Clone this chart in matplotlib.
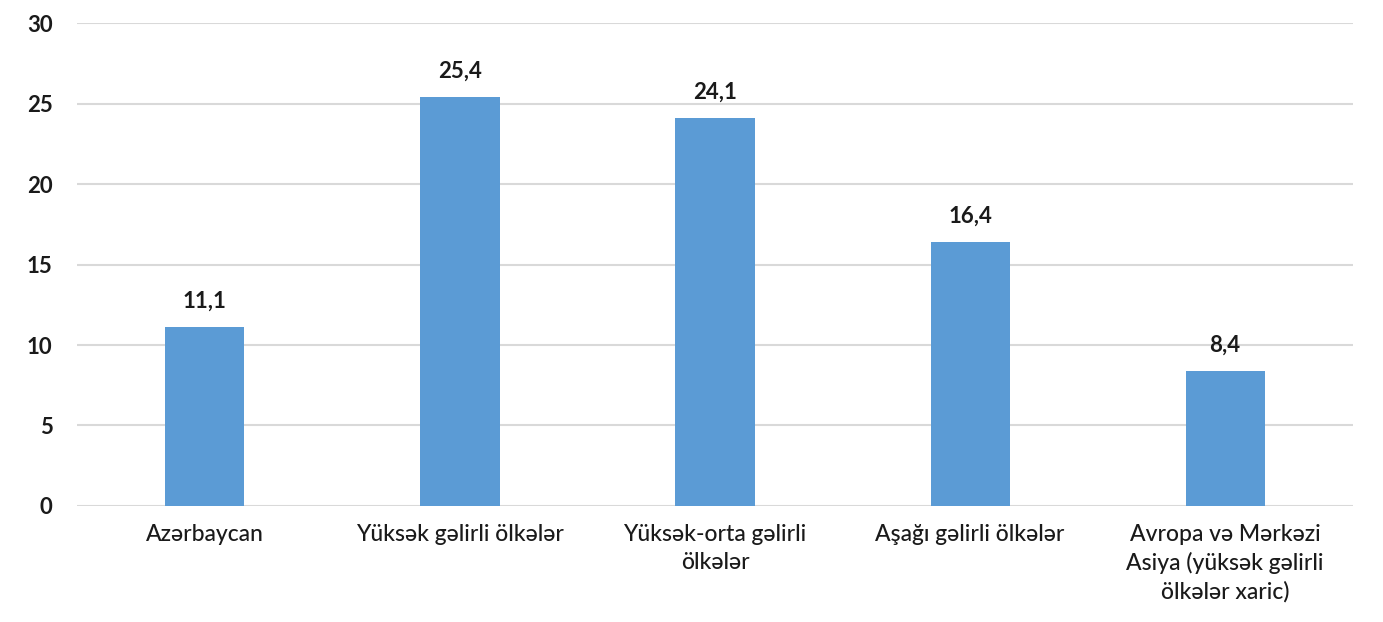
import matplotlib.pyplot as plt

# Data
categories = [
    "Azərbaycan",
    "Yüksək gəlirli ölkələr",
    "Yüksək-orta gəlirli\nölkələr",
    "Aşağı gəlirli ölkələr",
    "Avropa və Mərkəzi\nAsiya (yüksək gəlirli\nölkələr xaric)",
]
values = [11.1, 25.4, 24.1, 16.4, 8.4]
y_ticks = [0, 5, 10, 15, 20, 25, 30]

plt.rcParams['font.family'] = ['Lato', 'DejaVu Sans']

fig = plt.figure(figsize=(13.83, 6.22), dpi=100)
ax = fig.add_axes([0.056, 0.1865, 0.922, 0.7765])

x = range(len(categories))
bars = ax.bar(x, values, width=0.31, color='#5b9bd5', zorder=3)

for xi, v in zip(x, values):
    ax.annotate(f"{v:.1f}".replace('.', ','), (xi, v), xytext=(0, 11),
                textcoords='offset points', ha='center', va='bottom',
                fontsize=16, fontweight='bold', color='#1a1a1a')

ax.set_xlim(-0.5, len(categories) - 0.5)
ax.set_ylim(0, 30)
ax.set_yticks(y_ticks)
ax.set_yticklabels([str(t) for t in y_ticks], fontsize=16, fontweight='bold')
ax.set_xticks(list(x))
ax.set_xticklabels(categories, fontsize=16.5, linespacing=1.38, fontweight='medium')

ax.grid(axis='y', color='#d9d9d9', linewidth=1.5, zorder=0)
for s in ax.spines.values():
    s.set_visible(False)
ax.tick_params(axis='both', length=0, colors='#1a1a1a')
ax.tick_params(axis='y', pad=18)
ax.tick_params(axis='x', pad=13)

fig.savefig("out.png", dpi=100, facecolor='white')
